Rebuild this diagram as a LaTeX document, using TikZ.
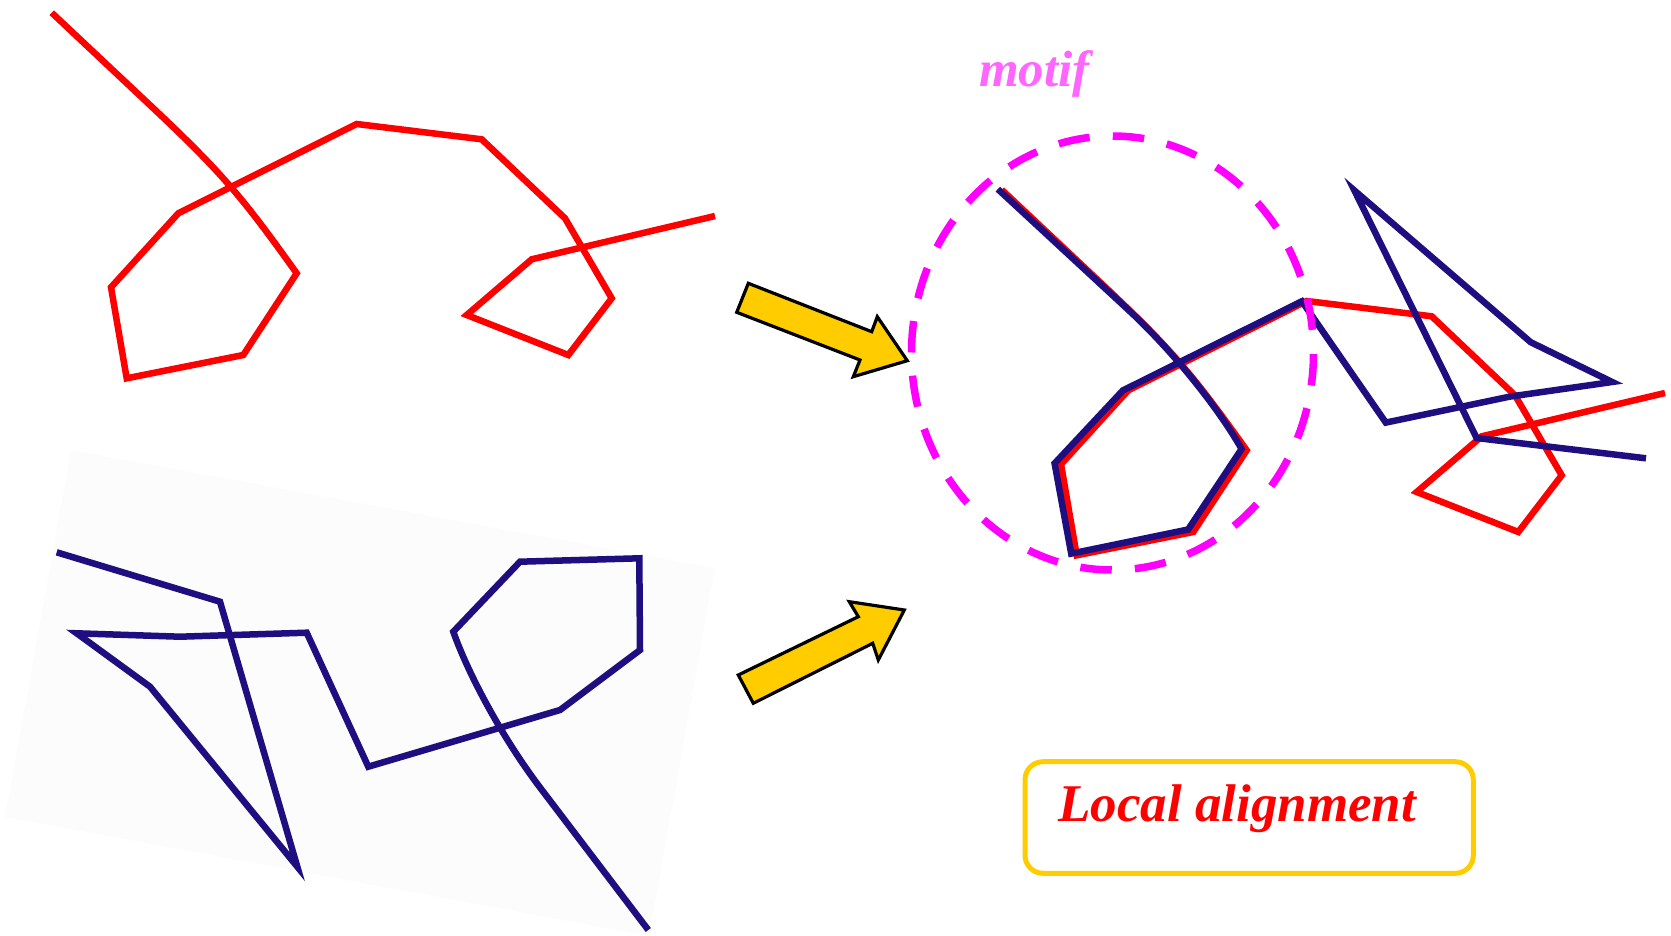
\documentclass[tikz,border=0pt]{standalone}
\usepackage{fontspec}
\setmainfont{Liberation Serif}
\definecolor{chainred}{RGB}{255,0,0}
\definecolor{chainblue}{RGB}{30,14,128}
\definecolor{ringpink}{RGB}{255,0,255}
\definecolor{motiftext}{RGB}{255,102,255}
\definecolor{arrowgold}{RGB}{255,204,0}
\definecolor{panelgrey}{RGB}{252,252,253}
\begin{document}
\begin{tikzpicture}[x=1pt,y=-1pt,
  redline/.style={draw=chainred,line width=6.5pt,line join=miter},
  blueline/.style={draw=chainblue,line width=6.5pt,line join=miter},
  goldarrow/.style={fill=arrowgold,draw=black,line width=3.2pt,line join=miter},
  motifring/.style={draw=ringpink,line width=7.5pt,dash pattern=on 31.5pt off 23.2pt,dash phase=31.5pt},
  labelbox/.style={draw=arrowgold,line width=5pt,rounded corners=18pt},
  redchain/.pic={
    \draw[redline] (51.7,12.7) -- (150,105.1) .. controls (222,172.8) and (241.7,196.3) .. (296.7,273.3)
      -- (243.3,355) -- (126.7,378.3) -- (111,287.3) -- (178.3,213.3) -- (356.7,124)
      -- (481.7,139.3) -- (565,218.3) -- (611.7,298.3) -- (568.3,355) -- (466.7,315)
      -- (531.7,259.3) -- (715,216);
  }]
\useasboundingbox (0,0) rectangle (1671,936);

% faint tilted panel behind the second chain
\fill[panelgrey] (71,450) -- (715,568) -- (649,936) -- (5,817) -- cycle;

% first chain
\pic {redchain};

% second chain
\draw[blueline] (56.7,552.3) -- (220,601.7) -- (297.3,866.7) -- (150,686.7) -- (76.7,633.3)
  -- (180,636.7) -- (306.7,632.7) -- (368.3,766.7) -- (560,710) -- (640,650)
  -- (639.3,558.3) -- (520,561.7) -- (453.3,631.7)
  .. controls (468.3,674.2) and (502.4,738) .. (540.4,788) -- (648.3,930);

% block arrows towards the superposition
\draw[goldarrow] (748.3,283.3) -- (871.7,331.7) -- (877.3,316.7) -- (907.3,360.7)
  -- (853.3,376.7) -- (860,360) -- (736.7,312.3) -- cycle;
\draw[goldarrow] (738.3,675) -- (858.3,616.7) -- (849.3,601.7) -- (904.3,610)
  -- (878.3,660) -- (872.7,643.3) -- (753.3,703.3) -- cycle;

% superposition: first chain shifted
\begin{scope}[shift={(950,177)}]
  \pic {redchain};
\end{scope}
% second chain turned by 170 degrees onto the first
\draw[blueline] (1646.0,458.3) -- (1476.6,438.0) -- (1354.4,190.5) -- (1530.7,342.2) -- (1612.2,382.0)
  -- (1509.9,396.6) -- (1385.8,422.6) -- (1301.9,301.3) -- (1122.9,390.4) -- (1054.6,463.4)
  -- (1071.2,553.6) -- (1188.1,529.5) -- (1241.6,449.0)
  .. controls (1219.4,409.8) and (1174.8,352.9) .. (1128.7,310.2) -- (997.8,189.1);

% the common motif
\draw[motifring] (1112.5,353) ellipse [x radius=201pt, y radius=217pt];
\node[anchor=base west,inner sep=0pt,text=motiftext,font=\fontsize{51}{56}\selectfont\bfseries\itshape]
  (motif) at (979,86.7) {motif};

% caption box
\draw[labelbox] (1025,761.7) rectangle (1473.3,873.3);
\node[anchor=base west,inner sep=0pt,text=chainred,font=\fontsize{53}{60}\selectfont\bfseries\itshape]
  (local) at (1058,821.7) {Local alignment};
\end{tikzpicture}
\end{document}
